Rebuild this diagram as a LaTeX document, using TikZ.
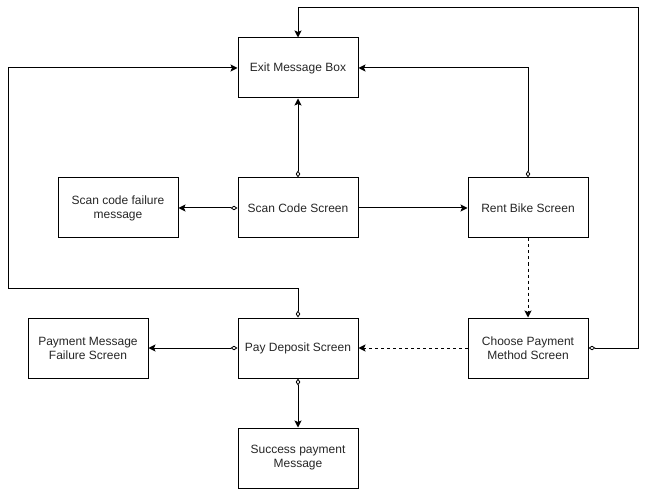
\documentclass[tikz,border=0pt]{standalone}
\usepackage{fontspec}
\setmainfont{Liberation Sans}
\usetikzlibrary{arrows.meta}
\begin{document}
\begin{tikzpicture}[x=1pt,y=-1pt,
  screen/.style={draw, line width=1pt, minimum width=120pt, minimum height=60pt,
    align=center, inner sep=2pt, font=\fontsize{12}{14}\selectfont, text=black!85},
  link/.style={line width=1pt, -{Stealth[length=7pt,width=7pt,inset=1.5pt]}},
  agg/.style={line width=1pt, {Diamond[open,length=7pt,width=4.5pt,line width=0.8pt]}-{Stealth[length=7pt,width=7pt,inset=1.5pt]}},
  flow/.style={link, dash pattern=on 3pt off 3pt}]
\useasboundingbox (0,0) rectangle (648,489);
% screens
\node[screen] (exit) at (298,68) {Exit Message Box};
\node[screen] (scanfail) at (118,208) {Scan code failure\\message};
\node[screen] (scan) at (298,208) {Scan Code Screen};
\node[screen] (rent) at (528,208) {Rent Bike Screen};
\node[screen] (payfail) at (88,348) {Payment Message\\Failure Screen};
\node[screen] (pay) at (298,348) {Pay Deposit Screen};
\node[screen] (choose) at (528,348) {Choose Payment\\Method Screen};
\node[screen] (success) at (298,458) {Success payment\\Message};
% routing points of the long loops
\coordinate (topR) at (638,8);
\coordinate (leftB) at (8,288);
% connectors
\draw[agg] (scan.north) -- (exit.south);
\draw[agg] (scan.west) -- (scanfail.east);
\draw[link] (scan.east) -- (rent.west);
\draw[agg] (rent.north) |- (exit.east);
\draw[flow] (rent.south) -- (choose.north);
\draw[flow] (choose.west) -- (pay.east);
\draw[agg] (choose.east) -| (topR) -| (exit.north);
\draw[agg] (pay.north) |- (leftB) |- (exit.west);
\draw[agg] (pay.west) -- (payfail.east);
\draw[agg] (pay.south) -- (success.north);
\end{tikzpicture}
\end{document}
